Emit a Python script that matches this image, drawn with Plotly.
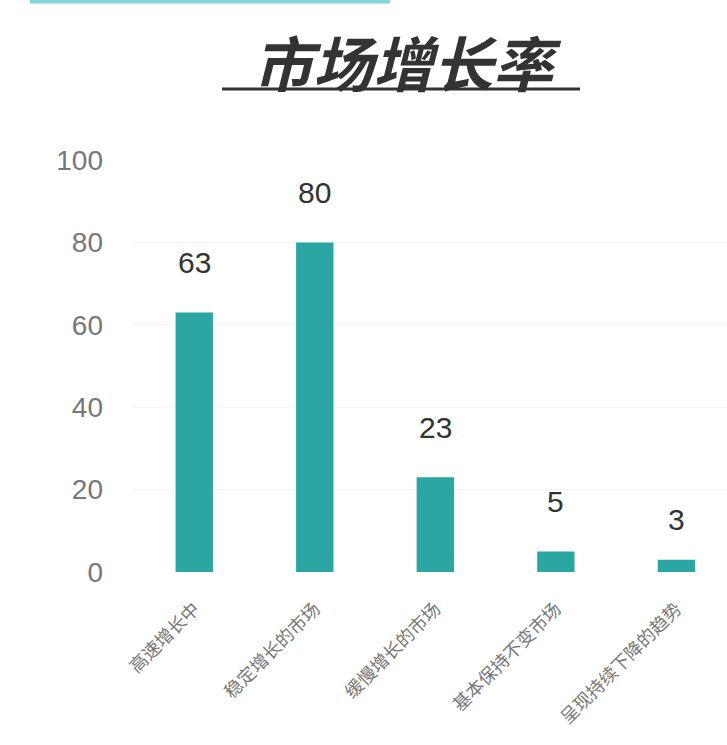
import plotly.graph_objects as go

categories = ["高速增长中", "稳定增长的市场", "缓慢增长的市场", "基本保持不变市场", "呈现持续下降的趋势"]
values = [63, 80, 23, 5, 3]
tick_vals = [0, 20, 40, 60, 80, 100]
title_text = "市场增长率"

W, H = 727, 745
L, R, T, B = 134, 0, 160, 173
PW, PH = W - L - R, H - T - B

fig = go.Figure()
fig.add_trace(go.Bar(
    x=categories, y=values,
    marker=dict(color="#2ba6a2", line=dict(width=0)),
    width=0.31,
    cliponaxis=False,
))

for c, v in zip(categories, values):
    fig.add_annotation(
        x=c, y=v, xref="x", yref="y",
        text=str(v), showarrow=False,
        yanchor="middle", yshift=50 if v > 4 else 40,
        font=dict(size=30, color="#333333", family="Liberation Sans, Arial"),
    )

fig.update_layout(
    width=W, height=H,
    margin=dict(l=L, r=R, t=T, b=B),
    paper_bgcolor="white", plot_bgcolor="white",
    showlegend=False,
    font=dict(family="Noto Sans CJK SC, Liberation Sans", color="#666666"),
    xaxis=dict(
        range=[-0.5, 4.42],
        tickangle=-45,
        tickfont=dict(size=18, color="#777777"),
        showgrid=False, zeroline=False, showline=False,
        ticks="", ticklabelstandoff=22,
    ),
    yaxis=dict(
        range=[0, 100],
        tickvals=tick_vals,
        tickfont=dict(size=28, color="#777777", family="Liberation Sans, Arial"),
        showgrid=True, gridcolor="#f4f4f4", gridwidth=1,
        zeroline=False, showline=False, ticks="",
        ticklabelstandoff=30,
    ),
)

# Title
fig.add_annotation(
    text="<b><i>" + title_text + "</i></b>",
    xref="paper", yref="paper",
    x=(407 - L) / PW, y=1 + (160 - 60) / PH,
    showarrow=False,
    font=dict(size=60, color="#333333", family="Noto Sans CJK SC"),
    xanchor="center", yanchor="middle",
)
# Title underline
fig.add_shape(
    type="line", xref="paper", yref="paper",
    x0=(222 - L) / PW, x1=(580 - L) / PW,
    y0=1 + (160 - 89) / PH, y1=1 + (160 - 89) / PH,
    line=dict(color="#333333", width=3),
)
# Top decorative bar
fig.add_shape(
    type="line", xref="paper", yref="paper",
    x0=(30 - L) / PW, x1=(390 - L) / PW,
    y0=1 + (160 - 1) / PH, y1=1 + (160 - 1) / PH,
    line=dict(color="#7fd8d8", width=5),
)

fig.write_html("out.html")
